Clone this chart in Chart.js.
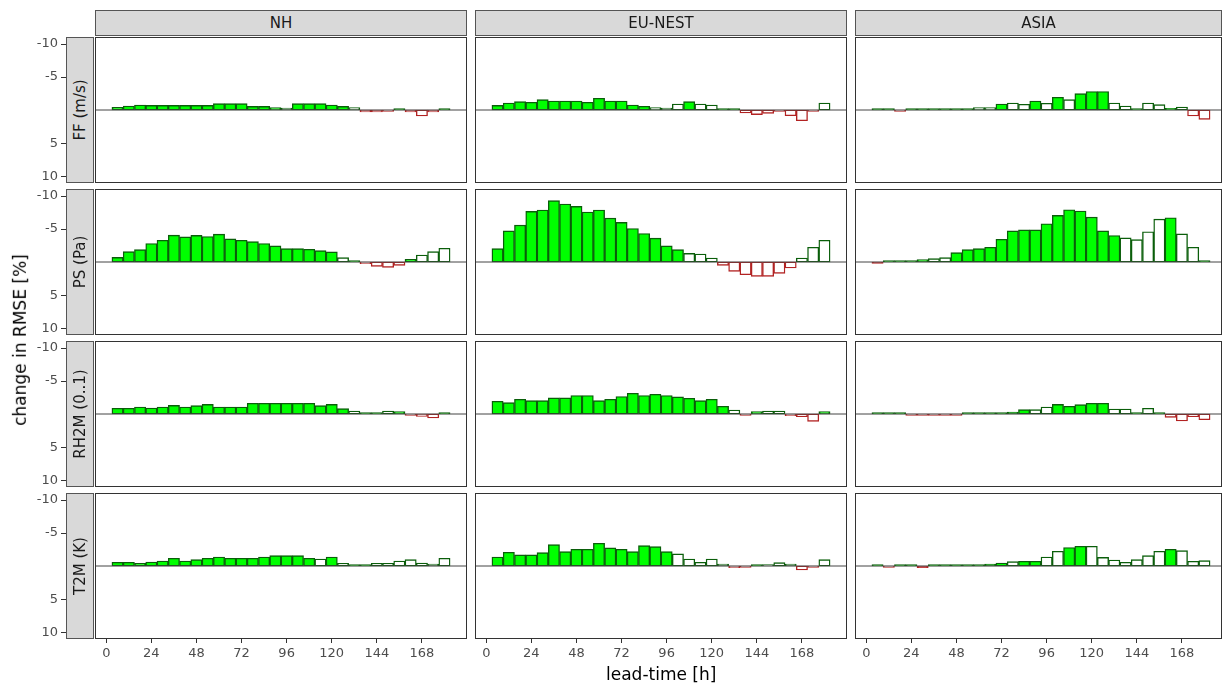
<!DOCTYPE html>
<html>
<head>
<meta charset="utf-8">
<script src="https://cdn.jsdelivr.net/npm/chart.js@4.4.0/dist/chart.umd.min.js"></script>
<style>
body { margin: 0; background: #fff; font-family: 'DejaVu Sans', sans-serif; }
#wrap { position: relative; width: 1224px; height: 683px; overflow: hidden; background: #fff; }
canvas { position: absolute; }
.strip { position: absolute; box-sizing: border-box; background: #d9d9d9; border: 1px solid #555;
         color: #1a1a1a; font-size: 15px; display: flex; align-items: center; justify-content: center; }
.strip .rot { transform: rotate(-90deg); white-space: nowrap; }
.title { position: absolute; font-size: 17px; color: #000; white-space: nowrap; }
</style>
</head>
<body>
<div id="wrap"></div>
<script>
// lead times (h) of the bars and axis ticks
var leadTimes = [6, 12, 18, 24, 30, 36, 42, 48, 54, 60, 66, 72, 78, 84, 90, 96, 102, 108, 114, 120, 126, 132, 138, 144, 150, 156, 162, 168, 174, 180];
var xTicks = [0, 24, 48, 72, 96, 120, 144, 168];
var yTicks = [-10, -5, 5, 10];
var regions = ['NH', 'EU-NEST', 'ASIA'];
var params = ['FF (m/s)', 'PS (Pa)', 'RH2M (0..1)', 'T2M (K)'];

// change in RMSE [%] , sig = 1 when significant (filled bar)
var ffNH = [-0.4, -0.6, -0.75, -0.7, -0.7, -0.7, -0.7, -0.7, -0.7, -0.95, -0.95, -0.95, -0.55, -0.55, -0.35, -0.3, -0.95, -0.95, -0.95, -0.75, -0.55, -0.35, 0.3, 0.3, 0.1, -0.05, 0.3, 0.9, 0.3, -0.2];
var ffNHSig = [1, 1, 1, 1, 1, 1, 1, 1, 1, 1, 1, 1, 1, 1, 1, 0, 1, 1, 1, 1, 1, 0, 0, 0, 0, 1, 0, 0, 0, 1];
var ffEU = [-0.7, -1.06, -1.26, -1.16, -1.57, -1.36, -1.36, -1.36, -1.16, -1.77, -1.36, -1.36, -0.76, -0.56, -0.35, -0.3, -0.91, -1.26, -0.91, -0.76, -0.1, -0.1, 0.45, 0.7, 0.5, 0.15, 0.86, 1.62, 0.1, -1.06];
var ffEUSig = [1, 1, 1, 1, 1, 1, 1, 1, 1, 1, 1, 1, 1, 1, 0, 0, 0, 1, 0, 0, 1, 1, 0, 0, 0, 0, 0, 0, 0, 0];
var ffAS = [-0.05, -0.05, 0.1, -0.03, -0.05, -0.15, -0.15, -0.15, -0.15, -0.35, -0.35, -0.91, -1.06, -0.86, -1.36, -1.01, -1.92, -1.57, -2.47, -2.78, -2.78, -1.06, -0.6, -0.15, -1.06, -0.8, -0.25, -0.45, 0.9, 1.41];
var ffASSig = [1, 1, 0, 1, 1, 1, 1, 1, 1, 0, 0, 1, 0, 0, 1, 0, 1, 0, 1, 1, 1, 0, 0, 1, 0, 0, 1, 0, 0, 0];

var psNH = [-0.7, -1.57, -1.87, -2.78, -3.28, -4.04, -3.79, -4.0, -3.84, -4.19, -3.48, -3.28, -3.08, -2.78, -2.42, -2.02, -2.02, -1.92, -1.72, -1.52, -0.66, -0.2, 0.25, 0.65, 0.8, 0.5, -0.4, -1.06, -1.57, -2.07];
var psNHSig = [1, 1, 1, 1, 1, 1, 1, 1, 1, 1, 1, 1, 1, 1, 1, 1, 1, 1, 1, 1, 0, 1, 0, 0, 0, 0, 1, 0, 0, 0];
var psEU = [-2.02, -4.7, -5.56, -7.63, -7.83, -9.24, -8.74, -8.38, -7.53, -7.83, -6.62, -5.96, -5.05, -4.29, -3.59, -2.42, -1.87, -1.31, -1.21, -0.6, 0.5, 1.41, 1.92, 2.17, 2.17, 1.72, 0.9, -0.6, -2.22, -3.28];
var psEUSig = [1, 1, 1, 1, 1, 1, 1, 1, 1, 1, 1, 1, 1, 1, 1, 1, 1, 0, 0, 0, 0, 0, 0, 0, 0, 0, 0, 0, 0, 0];
var psAS = [0.15, -0.05, -0.05, -0.2, -0.35, -0.5, -0.65, -1.41, -1.87, -2.02, -2.22, -3.43, -4.7, -4.85, -4.85, -5.76, -7.02, -7.88, -7.68, -6.77, -4.7, -3.99, -3.64, -3.38, -4.55, -6.46, -6.67, -4.24, -2.22, -0.15];
var psASSig = [1, 1, 1, 1, 1, 0, 0, 1, 1, 1, 1, 1, 1, 1, 1, 1, 1, 1, 1, 1, 1, 1, 0, 0, 0, 0, 1, 0, 0, 1];

var rhNH = [-0.86, -0.86, -1.06, -0.91, -1.06, -1.31, -1.06, -1.26, -1.46, -1.06, -1.06, -1.06, -1.62, -1.62, -1.62, -1.62, -1.62, -1.62, -1.26, -1.46, -0.81, -0.45, -0.1, -0.1, -0.45, -0.35, 0.2, 0.35, 0.6, -0.2];
var rhNHSig = [1, 1, 1, 1, 1, 1, 1, 1, 1, 1, 1, 1, 1, 1, 1, 1, 1, 1, 1, 1, 1, 0, 1, 1, 0, 1, 0, 0, 0, 1];
var rhEU = [-1.92, -1.72, -2.22, -2.02, -2.02, -2.42, -2.42, -2.78, -2.78, -2.02, -2.22, -2.63, -3.13, -2.78, -2.98, -2.78, -2.58, -2.37, -2.02, -2.22, -1.16, -0.6, 0.1, -0.35, -0.45, -0.45, 0.25, 0.4, 1.1, -0.35];
var rhEUSig = [1, 1, 1, 1, 1, 1, 1, 1, 1, 1, 1, 1, 1, 1, 1, 1, 1, 1, 1, 1, 1, 0, 0, 1, 0, 0, 0, 0, 0, 1];
var rhAS = [-0.05, -0.05, -0.05, 0.05, 0.05, 0.05, 0.05, 0.05, -0.1, -0.1, -0.1, -0.1, -0.3, -0.66, -0.66, -1.06, -1.46, -1.16, -1.41, -1.62, -1.62, -0.76, -0.76, -0.05, -0.86, -0.05, 0.5, 1.06, 0.4, 0.86];
var rhASSig = [1, 1, 1, 0, 0, 0, 0, 0, 1, 1, 1, 1, 1, 1, 0, 0, 1, 1, 1, 1, 1, 0, 0, 1, 0, 1, 0, 0, 0, 0];

var t2NH = [-0.56, -0.56, -0.4, -0.6, -0.76, -1.16, -0.76, -0.96, -1.16, -1.36, -1.16, -1.16, -1.16, -1.36, -1.57, -1.57, -1.57, -1.16, -1.06, -1.36, -0.4, -0.1, -0.1, -0.4, -0.4, -0.76, -0.96, -0.45, -0.3, -1.16];
var t2NHSig = [1, 1, 1, 1, 1, 1, 1, 1, 1, 1, 1, 1, 1, 1, 1, 1, 1, 1, 0, 1, 0, 1, 1, 0, 0, 0, 0, 0, 0, 0];
var t2EU = [-1.36, -2.07, -1.67, -1.67, -2.02, -3.23, -2.17, -2.53, -2.53, -3.43, -2.73, -2.53, -2.17, -3.08, -2.93, -2.17, -1.82, -1.06, -0.56, -1.06, -0.3, 0.25, 0.05, -0.15, -0.05, -0.5, -0.3, 0.6, 0.2, -0.96];
var t2EUSig = [1, 1, 1, 1, 1, 1, 1, 1, 1, 1, 1, 1, 1, 1, 1, 1, 0, 0, 0, 0, 0, 0, 0, 1, 0, 0, 0, 0, 0, 0];
var t2AS = [-0.05, 0.1, -0.05, -0.05, 0.25, -0.05, -0.05, -0.05, -0.05, -0.15, -0.3, -0.45, -0.66, -0.71, -0.71, -1.36, -2.22, -2.78, -2.98, -2.98, -1.31, -0.91, -0.56, -0.96, -1.57, -2.22, -2.53, -2.32, -0.71, -0.81];
var t2ASSig = [1, 0, 1, 1, 1, 1, 1, 1, 1, 1, 1, 1, 0, 1, 1, 0, 0, 1, 1, 0, 0, 0, 0, 0, 0, 0, 1, 0, 0, 0];

var values = [[ffNH, ffEU, ffAS], [psNH, psEU, psAS], [rhNH, rhEU, rhAS], [t2NH, t2EU, t2AS]];
var signif = [[ffNHSig, ffEUSig, ffASSig], [psNHSig, psEUSig, psASSig], [rhNHSig, rhEUSig, rhASSig], [t2NHSig, t2EUSig, t2ASSig]];

// panel geometry (page pixels)
var colX = [95, 475, 855];
var colW = [372, 372, 367];
var rowY = [37, 189, 341, 493];
var rowH = 146;

Chart.defaults.font.family = "'DejaVu Sans', sans-serif";
Chart.defaults.color = '#4d4d4d';

var wrap = document.getElementById('wrap');

function fillColor(v, s) {
    if (s) return v <= 0 ? '#00ff00' : '#d01010';
    return '#ffffff';
}
function lineColor(v) {
    return v <= 0 ? '#0a5e0a' : '#b22222';
}

// panel frame, zero line and the small y tick marks
var panelDeco = {
    id: 'panelDeco',
    afterDatasetsDraw: function (chart) {
        var a = chart.chartArea;
        var ctx = chart.ctx;
        var ys = chart.scales.y;
        var y0 = ys.getPixelForValue(0);
        ctx.save();
        ctx.strokeStyle = '#444';
        ctx.lineWidth = 1;
        ctx.beginPath();
        ctx.moveTo(a.left, y0);
        ctx.lineTo(a.right, y0);
        ctx.stroke();
        ctx.strokeStyle = '#333';
        ctx.strokeRect(a.left + 0.5, a.top + 0.5, a.right - a.left - 1, a.bottom - a.top - 1);
        if (chart.options.scales.y.display) {
            ctx.strokeStyle = '#333';
            yTicks.forEach(function (v) {
                var y = Math.round(ys.getPixelForValue(v)) + 0.5;
                ctx.beginPath();
                ctx.moveTo(61, y);
                ctx.lineTo(66, y);
                ctx.stroke();
            });
        }
        ctx.restore();
    }
};

function makePanel(r, c) {
    var showY = c === 0;
    var showX = r === 3;
    var L = showY ? 95 : 4;
    var B = showX ? 45 : 4;
    var T = 4, R = 4;
    var cv = document.createElement('canvas');
    var w = colW[c] + L + R, h = rowH + T + B;
    cv.width = w; cv.height = h;
    cv.style.left = (colX[c] - L) + 'px';
    cv.style.top = (rowY[r] - T) + 'px';
    cv.style.width = w + 'px';
    cv.style.height = h + 'px';
    wrap.appendChild(cv);

    var vals = values[r][c];
    var sig = signif[r][c];
    var pts = [];
    var bg = [];
    var bd = [];
    for (var i = 0; i < leadTimes.length; i++) {
        pts.push({ x: leadTimes[i], y: vals[i] });
        bg.push(fillColor(vals[i], sig[i]));
        bd.push(lineColor(vals[i]));
    }
    // keep the same h per pixel in the narrower last column
    var xMax = -6 + 198 * colW[c] / 372;

    new Chart(cv, {
        type: 'bar',
        data: {
            datasets: [{
                data: pts,
                backgroundColor: bg,
                borderColor: bd,
                borderWidth: 1.4,
                borderSkipped: false,
                barPercentage: 1,
                categoryPercentage: 1,
                minBarLength: 1.5
            }]
        },
        plugins: [panelDeco],
        options: {
            responsive: false,
            animation: false,
            layout: { padding: { left: showY ? 0 : 4, right: 4, top: 4, bottom: showX ? 0 : 4 } },
            plugins: { legend: { display: false }, tooltip: { enabled: false } },
            scales: {
                x: {
                    type: 'linear',
                    min: -6,
                    max: xMax,
                    offset: false,
                    display: showX,
                    border: { display: false },
                    grid: { offset: false, drawOnChartArea: false, drawTicks: true, tickLength: 4, color: '#333' },
                    ticks: { autoSkip: false, maxRotation: 0, padding: 3, font: { size: 13 }, color: '#4d4d4d' },
                    afterBuildTicks: function (s) { s.ticks = xTicks.map(function (v) { return { value: v }; }); },
                    afterFit: function (s) { if (showX) { s.height = 45; } }
                },
                y: {
                    type: 'linear',
                    reverse: true,
                    min: -11,
                    max: 11,
                    display: showY,
                    border: { display: false },
                    grid: { drawOnChartArea: false, drawTicks: false },
                    ticks: { autoSkip: false, padding: 37, font: { size: 13 }, color: '#4d4d4d' },
                    afterBuildTicks: function (s) { s.ticks = yTicks.map(function (v) { return { value: v }; }); },
                    afterFit: function (s) { if (showY) { s.width = 95; s.paddingTop = 0; s.paddingBottom = 0; } }
                }
            }
        }
    });
}

for (var r = 0; r < 4; r++) {
    for (var c = 0; c < 3; c++) {
        makePanel(r, c);
    }
}

// facet strips
regions.forEach(function (name, c) {
    var d = document.createElement('div');
    d.className = 'strip';
    d.style.left = colX[c] + 'px';
    d.style.top = '10px';
    d.style.width = colW[c] + 'px';
    d.style.height = '26px';
    d.textContent = name;
    wrap.appendChild(d);
});
params.forEach(function (name, r) {
    var d = document.createElement('div');
    d.className = 'strip';
    d.style.left = '66px';
    d.style.top = rowY[r] + 'px';
    d.style.width = '28px';
    d.style.height = rowH + 'px';
    var s = document.createElement('span');
    s.className = 'rot';
    s.textContent = name;
    d.appendChild(s);
    wrap.appendChild(d);
});

// axis titles
var yt = document.createElement('div');
yt.className = 'title';
yt.textContent = 'change in RMSE [%]';
wrap.appendChild(yt);
yt.style.left = (20 - yt.offsetWidth / 2) + 'px';
yt.style.top = (340 - yt.offsetHeight / 2) + 'px';
yt.style.transform = 'rotate(-90deg)';

var xt = document.createElement('div');
xt.className = 'title';
xt.textContent = 'lead-time [h]';
wrap.appendChild(xt);
xt.style.left = (661 - xt.offsetWidth / 2) + 'px';
xt.style.top = (674 - xt.offsetHeight / 2) + 'px';
</script>
</body>
</html>
